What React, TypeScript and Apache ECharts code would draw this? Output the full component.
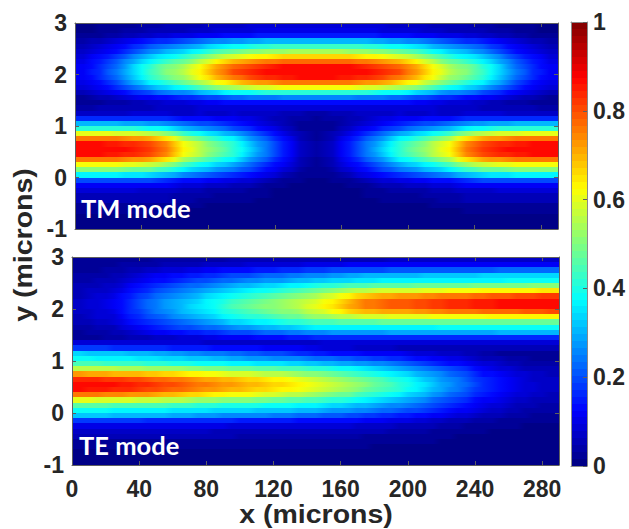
import React, { useEffect, useRef } from "react";
import * as echarts from "echarts";

// Field intensity in percent. Rows run from y = 3 (top) to y = -1 (bottom) in 0.1 micron cells,
// columns from x = 0 to x = 290 in 10 micron cells.
const xCellSize = 10;
const yCellSize = 0.1;
const xTicks = 40;
const colorLevels = 64;

const tmRows: number[][] = [
  [1,2,2,3,4,5,5,6,7,7,8,8,8,8,8,8,8,8,8,7,7,6,5,5,4,3,2,2,1],
  [1,2,3,4,5,6,6,7,8,9,9,10,10,10,10,10,10,10,9,9,8,7,6,6,5,4,3,2,1],
  [2,3,4,6,7,9,10,11,12,14,14,15,15,15,15,15,15,15,14,14,12,11,10,9,7,6,4,3,2],
  [4,6,8,12,15,17,19,22,25,27,29,30,30,31,31,31,30,30,29,27,25,22,19,17,15,12,8,6,4],
  [6,8,12,16,21,24,27,31,35,38,40,42,43,43,43,43,43,42,40,38,35,31,27,24,21,16,12,8,6],
  [7,10,14,20,26,30,34,38,44,48,50,52,53,54,54,54,53,52,50,48,44,38,34,30,26,20,14,10,7],
  [9,13,18,25,32,37,41,47,54,59,62,64,66,67,67,67,66,64,62,59,54,47,41,37,32,25,18,13,9],
  [10,15,21,29,37,43,48,55,63,69,72,75,77,77,77,77,77,75,72,69,63,55,48,43,37,29,21,15,10],
  [12,16,23,33,42,49,54,62,71,78,81,84,86,87,87,87,86,84,81,78,71,62,54,49,42,33,23,16,12],
  [12,17,24,34,43,50,56,64,73,80,84,86,87,87,87,87,87,86,84,80,73,64,56,50,43,34,24,17,12],
  [11,16,23,32,41,48,53,61,69,76,80,83,85,86,86,86,85,83,80,76,69,61,53,48,41,32,23,16,11],
  [10,14,20,29,36,42,47,54,61,67,71,73,75,76,76,76,75,73,71,67,61,54,47,42,36,29,20,14,10],
  [8,12,16,23,29,34,38,44,50,54,57,59,61,61,61,61,61,59,57,54,50,44,38,34,29,23,16,12,8],
  [6,8,11,16,20,24,26,30,34,38,39,41,42,42,42,42,42,41,39,38,34,30,26,24,20,16,11,8,6],
  [3,5,7,10,12,14,16,18,20,22,24,24,25,25,25,25,25,24,24,22,20,18,16,14,12,10,7,5,3],
  [2,3,4,5,7,8,9,10,12,13,13,14,14,14,14,14,14,14,13,13,12,10,9,8,7,5,4,3,2],
  [4,5,5,6,6,7,7,8,8,8,9,9,8,8,8,8,8,9,9,8,8,8,7,7,6,6,5,5,4],
  [7,7,7,8,9,8,7,8,7,8,7,7,6,5,4,5,6,7,7,8,7,8,7,8,9,8,7,7,7],
  [16,16,16,16,16,16,14,13,12,11,10,7,5,4,3,4,5,7,10,11,12,13,14,16,16,16,16,16,16],
  [30,30,30,29,28,26,22,20,18,15,12,9,6,3,2,3,6,9,12,15,18,20,22,26,28,29,30,30,30],
  [42,42,42,41,39,36,30,27,24,20,16,12,7,3,2,3,7,12,16,20,24,27,30,36,39,41,42,42,42],
  [60,60,59,58,56,51,43,38,33,29,22,16,10,5,3,5,10,16,22,29,33,38,43,51,56,58,59,60,60],
  [76,76,75,73,71,65,54,48,42,36,28,21,13,6,3,6,13,21,28,36,42,48,54,65,71,73,75,76,76],
  [86,86,85,83,80,74,62,55,48,41,32,24,15,7,4,7,15,24,32,41,48,55,62,74,80,83,85,86,86],
  [87,87,87,85,82,75,63,56,49,42,33,24,15,7,4,7,15,24,33,42,49,56,63,75,82,85,87,87,87],
  [86,86,85,83,80,74,62,55,48,41,32,24,15,7,4,7,15,24,32,41,48,55,62,74,80,83,85,86,86],
  [76,76,75,73,71,65,54,48,42,36,28,21,13,6,3,6,13,21,28,36,42,48,54,65,71,73,75,76,76],
  [62,62,61,60,57,53,44,39,34,29,23,17,11,5,3,5,11,17,23,29,34,39,44,53,57,60,61,62,62],
  [50,50,50,48,47,43,36,32,28,24,19,14,9,4,2,4,9,14,19,24,28,32,36,43,47,48,50,50,50],
  [36,36,36,35,34,31,26,23,20,17,14,10,6,3,2,3,6,10,14,17,20,23,26,31,34,35,36,36,36],
  [20,20,20,20,19,17,14,13,11,10,8,6,3,2,1,2,3,6,8,10,11,13,14,17,19,20,20,20,20],
  [12,12,12,12,11,11,9,8,7,6,5,3,2,1,1,1,2,3,5,6,7,8,9,11,11,12,12,12,12],
  [8,8,8,8,7,7,6,5,4,4,3,2,1,1,1,1,1,2,3,4,4,5,6,7,7,8,8,8,8],
  [6,6,6,6,6,5,4,4,3,3,2,2,1,1,0,1,1,2,2,3,3,4,4,5,6,6,6,6,6],
  [5,5,5,5,5,5,4,3,3,2,2,1,1,0,0,0,1,1,2,2,3,3,4,5,5,5,5,5,5],
  [3,3,3,3,2,2,2,2,1,1,1,1,0,0,0,0,0,1,1,1,1,2,2,2,2,3,3,3,3],
  [2,2,2,2,2,2,1,1,1,1,1,0,0,0,0,0,0,0,1,1,1,1,1,2,2,2,2,2,2],
  [1,1,1,1,1,1,1,1,0,0,0,0,0,0,0,0,0,0,0,0,0,1,1,1,1,1,1,1,1],
  [1,1,1,1,1,0,0,0,0,0,0,0,0,0,0,0,0,0,0,0,0,0,0,0,1,1,1,1,1],
  [0,0,0,0,0,0,0,0,0,0,0,0,0,0,0,0,0,0,0,0,0,0,0,0,0,0,0,0,0],
];

const teRows: number[][] = [
  [3,3,3,3,3,4,4,4,4,5,5,5,5,6,6,6,6,6,6,7,7,7,7,7,7,7,7,7,7],
  [3,3,3,4,4,5,5,6,7,7,8,8,9,9,10,10,11,11,11,11,11,11,12,12,12,12,12,12,12],
  [3,3,4,5,7,8,9,10,12,13,14,15,16,17,18,19,19,20,20,21,21,21,21,21,21,22,22,22,22],
  [4,4,5,7,10,12,14,15,17,19,20,22,23,24,26,27,29,30,31,31,31,32,32,32,33,33,33,34,34],
  [4,5,6,9,12,14,17,19,21,23,25,27,28,30,32,33,34,35,36,36,36,36,37,37,37,37,38,38,38],
  [5,6,7,11,15,18,21,23,26,29,31,33,35,37,40,42,44,45,46,46,47,47,48,48,49,49,49,50,50],
  [6,7,8,13,17,21,24,27,31,34,37,39,41,44,47,50,54,56,58,58,59,60,61,61,63,63,64,64,65],
  [6,8,10,15,20,24,28,31,35,39,42,45,48,50,54,59,64,68,71,72,73,74,76,76,78,79,80,81,82],
  [7,9,11,17,22,27,31,34,38,43,46,49,52,55,59,64,70,75,78,79,80,82,83,84,85,86,87,87,87],
  [7,9,11,17,22,27,31,35,39,44,47,50,53,56,60,65,71,75,78,79,80,82,83,84,85,86,87,87,87],
  [7,8,10,16,21,26,30,33,37,42,44,47,50,53,57,61,66,69,71,71,72,74,75,75,77,78,78,79,80],
  [6,8,9,15,19,23,27,30,34,38,41,43,46,48,52,54,56,58,59,60,60,61,61,62,62,63,63,64,64],
  [5,7,8,13,17,20,23,26,29,33,35,37,40,42,45,45,46,46,47,47,47,47,47,47,47,48,48,48,48],
  [4,5,6,10,13,16,19,21,23,26,28,30,32,33,36,36,37,37,37,37,37,37,38,38,38,38,38,38,38],
  [3,4,5,7,10,12,14,15,17,19,20,22,23,24,26,27,27,28,28,29,29,29,29,29,29,30,30,30,30],
  [3,3,4,5,6,7,8,9,10,12,12,13,14,15,16,16,16,16,16,16,16,16,16,16,16,16,16,16,16],
  [8,8,8,8,8,8,8,8,7,7,7,7,7,7,7,9,9,9,9,8,8,8,8,8,8,8,8,8,8],
  [18,18,17,17,17,16,15,15,14,13,13,12,12,11,10,8,8,7,7,6,6,5,5,5,5,5,5,5,5],
  [33,32,32,31,30,29,27,25,24,23,21,20,19,17,15,14,14,12,12,11,9,8,7,6,4,3,3,2,2],
  [38,37,37,36,35,34,33,32,31,29,28,27,26,25,23,22,21,19,18,16,14,12,10,9,6,5,4,3,3],
  [44,44,43,43,42,41,40,39,38,37,36,35,35,33,32,30,29,27,25,22,20,17,14,12,9,7,5,4,4],
  [56,55,55,54,53,52,52,50,49,48,47,46,45,44,42,40,38,35,32,29,26,22,19,16,12,9,7,5,5],
  [72,71,70,70,68,67,65,63,61,59,58,56,55,52,50,48,45,42,39,35,31,27,23,19,14,11,9,7,6],
  [84,83,82,81,79,77,75,72,71,69,67,65,63,60,57,54,51,47,44,40,35,30,26,21,16,13,10,7,7],
  [87,87,86,85,83,81,79,76,74,72,70,68,66,63,60,57,54,50,46,42,37,32,27,22,17,13,10,8,7],
  [86,85,84,83,81,79,77,74,72,70,68,66,64,61,58,55,52,48,45,41,36,31,26,21,16,13,10,8,7],
  [76,75,74,73,72,70,68,66,64,62,61,59,57,55,52,49,47,43,40,36,32,28,23,19,15,11,9,7,6],
  [60,59,59,58,57,56,55,53,52,51,50,49,47,46,44,42,40,37,34,31,27,23,20,16,12,10,7,6,5],
  [46,46,45,45,44,44,43,42,41,40,40,39,38,37,36,34,32,30,28,25,22,19,16,13,10,8,6,5,4],
  [38,38,37,37,37,36,35,35,34,33,33,32,32,31,30,28,27,25,23,21,19,16,13,11,8,7,5,4,4],
  [32,32,31,31,30,30,29,28,27,26,26,25,24,23,22,21,20,18,17,15,14,12,10,8,6,5,4,3,3],
  [18,18,18,18,17,17,17,16,16,16,15,15,15,14,14,13,13,12,11,10,9,7,6,5,4,3,2,2,2],
  [10,10,10,10,10,10,10,10,10,9,9,9,9,9,9,9,8,7,7,6,6,5,4,3,3,2,2,1,1],
  [7,7,7,7,7,7,7,7,6,6,6,6,6,6,6,6,5,5,5,4,4,3,3,2,2,1,1,1,1],
  [5,5,5,5,5,5,5,5,5,5,4,4,4,4,4,4,4,3,3,3,2,2,2,1,1,1,1,1,1],
  [3,3,3,3,3,3,3,3,3,3,3,3,3,3,3,3,3,2,2,2,2,2,1,1,1,1,0,0,0],
  [2,2,2,2,2,2,2,2,2,2,2,2,2,2,2,2,2,2,1,1,1,1,1,1,0,0,0,0,0],
  [1,1,1,1,1,1,1,1,1,1,1,1,1,1,1,1,1,1,1,1,1,1,0,0,0,0,0,0,0],
  [1,1,1,1,1,1,1,1,1,1,0,0,0,0,0,0,0,0,0,0,0,0,0,0,0,0,0,0,0],
  [0,0,0,0,0,0,0,0,0,0,0,0,0,0,0,0,0,0,0,0,0,0,0,0,0,0,0,0,0],
];

const TXT = "#262626";
const LINE = "#5f5f5f";
const FONT = "'Liberation Sans', Arial, sans-serif";

function clamp01(v: number) {
  return Math.max(0, Math.min(1, v));
}
// MATLAB "jet" with 64 discrete levels
function jet(value: number) {
  const k = Math.min(colorLevels - 1, Math.floor(clamp01(value) * colorLevels));
  const t = (k + 0.5) / colorLevels;
  const r = clamp01(Math.min(4 * t - 1.5, -4 * t + 4.5));
  const g = clamp01(Math.min(4 * t - 0.5, -4 * t + 3.5));
  const b = clamp01(Math.min(4 * t + 0.5, -4 * t + 2.5));
  return `rgb(${Math.round(r * 255)},${Math.round(g * 255)},${Math.round(b * 255)})`;
}

// each cell also carries its row neighbours, so its fill can shade into them
function cells(rows: number[][]) {
  const out: number[][] = [];
  rows.forEach((row, r) => {
    row.forEach((pct, c) => {
      const prev = c > 0 ? row[c - 1] : pct;
      const next = c < row.length - 1 ? row[c + 1] : pct;
      out.push([c * xCellSize, (c + 1) * xCellSize, 3 - r * yCellSize, 3 - (r + 1) * yCellSize, pct / 100, prev / 100, next / 100]);
    });
  });
  return out;
}

function colorbarCells() {
  const out: number[][] = [];
  for (let k = 0; k < colorLevels; k++) {
    const v = (k + 0.5) / colorLevels;
    out.push([0, 1, k / colorLevels, (k + 1) / colorLevels, v, v, v]);
  }
  return out;
}

function renderCell(_: any, api: any) {
  const p0 = api.coord([api.value(0), api.value(2)]);
  const p1 = api.coord([api.value(1), api.value(3)]);
  const x0 = Math.round(p0[0]);
  const x1 = Math.round(p1[0]);
  const y0 = Math.round(p0[1]);
  const y1 = Math.round(p1[1]);
  const v = api.value(4);
  const prev = api.value(5);
  const next = api.value(6);
  const fill =
    prev === v && next === v
      ? jet(v)
      : new echarts.graphic.LinearGradient(0, 0, 1, 0, [
          { offset: 0, color: jet((prev + v) / 2) },
          { offset: 0.5, color: jet(v) },
          { offset: 1, color: jet((next + v) / 2) },
        ]);
  return {
    type: "rect",
    shape: { x: x0, y: y0, width: x1 - x0, height: y1 - y0 },
    style: { fill, stroke: null },
  };
}

const cellSeries = (data: number[][], xAxisIndex: number, yAxisIndex: number) => ({
  type: "custom",
  xAxisIndex,
  yAxisIndex,
  data,
  silent: true,
  clip: false,
  progressive: 0,
  z: 1,
  encode: { x: [0, 1], y: [2, 3] },
  renderItem: renderCell,
});

const lineStyle = { color: LINE, width: 1 };
const labelStyle = { color: TXT, fontFamily: FONT, fontWeight: "bold" as const, fontSize: 23 };

function xAx(gridIndex: number, position: string, labels: boolean) {
  return {
    type: "value", gridIndex, position, min: 0, max: 290, interval: xTicks,
    axisLine: { show: true, onZero: false, lineStyle },
    axisTick: { show: true, inside: true, length: 4, lineStyle },
    axisLabel: { show: labels, margin: 12, showMaxLabel: false, ...labelStyle },
    splitLine: { show: false },
    z: 5,
  };
}
function yAx(gridIndex: number, position: string, labels: boolean) {
  return {
    type: "value", gridIndex, position, min: -1, max: 3, interval: 1,
    axisLine: { show: true, onZero: false, lineStyle },
    axisTick: { show: true, inside: true, length: 4, lineStyle },
    axisLabel: { show: labels, margin: 8, ...labelStyle },
    splitLine: { show: false },
    z: 5,
  };
}

export default function App() {
  const ref = useRef<HTMLDivElement>(null);
  useEffect(() => {
    if (!ref.current) return;
    const chart = echarts.init(ref.current, undefined, { renderer: "svg" });
    chart.setOption({
      animation: false,
      backgroundColor: "#ffffff",
      grid: [
        { left: 75, top: 23, width: 483, height: 206 },
        { left: 72, top: 257, width: 487, height: 208 },
        { left: 571, top: 22, width: 16, height: 444 },
      ],
      xAxis: [
        xAx(0, "bottom", false),
        xAx(0, "top", false),
        xAx(1, "bottom", true),
        xAx(1, "top", false),
        {
          type: "value", gridIndex: 2, position: "bottom", min: 0, max: 1,
          axisLine: { show: true, onZero: false, lineStyle: { color: "#8a8a8a", width: 1 } },
          axisTick: { show: false }, axisLabel: { show: false }, splitLine: { show: false }, z: 5,
        },
        {
          type: "value", gridIndex: 2, position: "top", min: 0, max: 1,
          axisLine: { show: true, onZero: false, lineStyle: { color: "#8a8a8a", width: 1 } },
          axisTick: { show: false }, axisLabel: { show: false }, splitLine: { show: false }, z: 5,
        },
      ],
      yAxis: [
        yAx(0, "left", true),
        yAx(0, "right", false),
        yAx(1, "left", true),
        yAx(1, "right", false),
        {
          type: "value", gridIndex: 2, position: "left", min: 0, max: 1,
          axisLine: { show: true, onZero: false, lineStyle: { color: "#8a8a8a", width: 1 } },
          axisTick: { show: false }, axisLabel: { show: false }, splitLine: { show: false }, z: 5,
        },
        {
          type: "value", gridIndex: 2, position: "right", min: 0, max: 1, interval: 0.2,
          axisLine: { show: true, onZero: false, lineStyle: { color: "#8a8a8a", width: 1 } },
          axisTick: { show: true, inside: true, length: 4, lineStyle },
          axisLabel: { show: true, margin: 6, ...labelStyle },
          splitLine: { show: false }, z: 5,
        },
      ],
      series: [
        cellSeries(cells(tmRows), 0, 0),
        cellSeries(cells(teRows), 2, 2),
        cellSeries(colorbarCells(), 4, 5),
      ],
      graphic: [
        {
          type: "text", x: 316, y: 515, scaleX: 1.14, z: 20,
          style: { text: "x (microns)", fill: TXT, font: `bold 25px ${FONT}`, textAlign: "center", textVerticalAlign: "middle" },
        },
        {
          type: "text", x: 24, y: 245, rotation: Math.PI / 2, scaleX: 1.14, z: 20,
          style: { text: "y (microns)", fill: TXT, font: `bold 25px ${FONT}`, textAlign: "center", textVerticalAlign: "middle" },
        },
        {
          type: "text", x: 81, y: 208, z: 20,
          style: { text: "TM mode", fill: "#ffffff", font: `bold 25.5px Lato, sans-serif`, textAlign: "left", textVerticalAlign: "middle" },
        },
        {
          type: "text", x: 79, y: 445, z: 20,
          style: { text: "TE mode", fill: "#ffffff", font: `bold 25.5px Lato, sans-serif`, textAlign: "left", textVerticalAlign: "middle" },
        },
      ],
    });
    return () => chart.dispose();
  }, []);
  return <div ref={ref} style={{ position: "absolute", left: 0, top: 0, width: 629, height: 529 }} />;
}
